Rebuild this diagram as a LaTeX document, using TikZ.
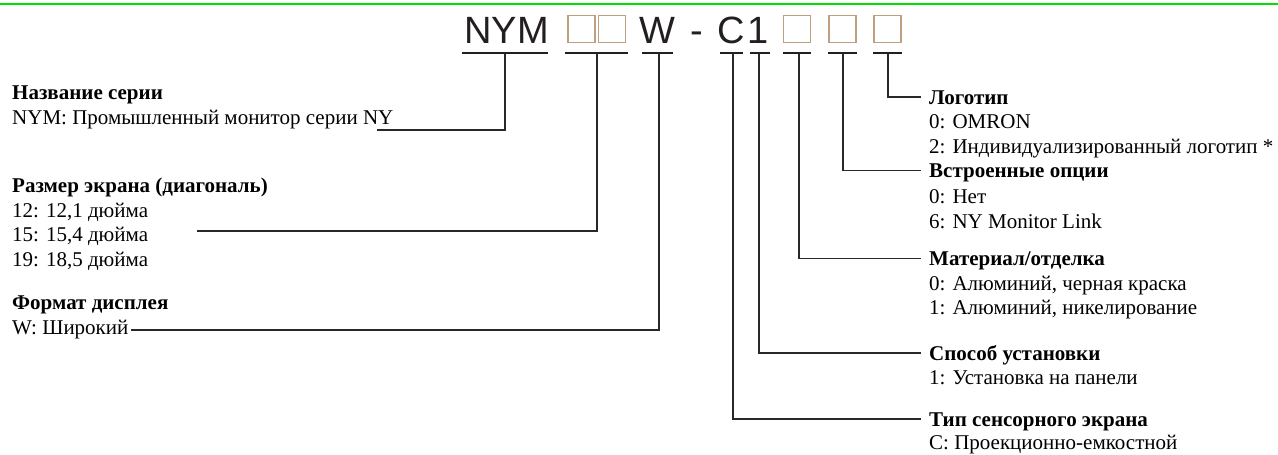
\documentclass[tikz,border=0pt]{standalone}
\usepackage{fontspec}
\setmainfont{Liberation Serif}
\newfontfamily\codefont{Liberation Sans}
\definecolor{codegray}{RGB}{35,31,32}
\definecolor{slottan}{RGB}{190,160,128}
\definecolor{rulegreen}{RGB}{0,225,0}
\definecolor{linegray}{RGB}{40,40,40}
\begin{document}
\begin{tikzpicture}[x=1pt,y=-1pt,
    code/.style={anchor=base,inner sep=0pt,text=codegray,font=\codefont\fontsize{38}{38}\selectfont},
    slot/.style={draw=slottan,line width=1.3pt,minimum width=27pt,minimum height=27pt,inner sep=0pt},
    uline/.style={line width=2.6pt,draw=codegray},
    conn/.style={line width=1.5pt,draw=linegray},
    head/.style={anchor=base west,inner sep=0pt,font=\bfseries\fontsize{21}{25}\selectfont},
    item/.style={anchor=base west,inner sep=0pt,font=\fontsize{21}{25}\selectfont},
    rhead/.style={head,inner xsep=8pt,text height=14pt,text depth=0pt}]
    \useasboundingbox (0,0) rectangle (1278,455);

    % Top rule
    \draw[rulegreen,line width=2.5pt] (0,4) -- (1278,4);

    % Model code
    \node[code] (nym) at (506.5,43) {NYM};
    \node[slot] (sz1) at (581.5,29) {};
    \node[slot] (sz2) at (612,29) {};
    \node[code] (fmt) at (657.5,43) {W};
    \node[code] (dash) at (697,43) {-};
    \node[code] (tch) at (731.5,43) {C};
    \node[code] (mnt) at (758.5,43) {1};
    \node[slot] (mat) at (797,29) {};
    \node[slot] (opt) at (842.5,29) {};
    \node[slot] (logo) at (887.5,29) {};

    % Underlines
    \foreach \a/\b/\m/\n in {462/548/505/nym, 565/628/597/size, 642/673/659/fmt,
                              720/743/733/tch, 750/770/759/mnt, 783/811/799/mat,
                              828/857/843/opt, 873/902/888/logo}{
        \draw[uline] (\a,53) -- (\b,53);
        \coordinate (u-\n) at (\m,53);
    }

    % Left descriptions
    \node[head] (hser) at (12,99) {Название серии};
    \node[item] (iser) at (12,124) {NYM: Промышленный монитор серии NY};
    \node[head] (hsize) at (12,192) {Размер экрана (диагональ)};
    \node[item] (isize1) at (12,217) {12: 12,1 дюйма};
    \node[item] (isize2) at (12,241.5) {15: 15,4 дюйма};
    \node[item] (isize3) at (12,266) {19: 18,5 дюйма};
    \node[head] (hfmt) at (12,309) {Формат дисплея};
    \node[item] (wtxt) at (12,334) {W: Широкий};

    % Right descriptions
    \node[rhead] (hlogo) at (921,104) {Логотип};
    \node[item] (ilogo1) at (929,128.8) {0: OMRON};
    \node[item] (ilogo2) at (929,153.6) {2: Индивидуализированный логотип *};
    \node[rhead] (hopt) at (921,177.5) {Встроенные опции};
    \node[item] (iopt1) at (929,203.2) {0: Нет};
    \node[item] (iopt2) at (929,228) {6: NY Monitor Link};
    \node[rhead] (hmat) at (921,265.5) {Материал/отделка};
    \node[item] (imat1) at (929,290) {0: Алюминий, черная краска};
    \node[item] (imat2) at (929,314.5) {1: Алюминий, никелирование};
    \node[rhead] (hmnt) at (921,360) {Способ установки};
    \node[item] (imnt) at (929,384.5) {1: Установка на панели};
    \node[rhead] (htch) at (921,426) {Тип сенсорного экрана};
    \node[item] (itch) at (929,449.5) {С: Проекционно-емкостной};

    % Connectors
    \coordinate (nymend) at (377,130);
    \coordinate (sizeend) at (197,231);
    \draw[conn] (u-nym) |- (nymend);
    \draw[conn] (u-size) |- (sizeend);
    \draw[conn] (u-fmt) |- ([shift={(2pt,4pt)}]wtxt.base east);
    \draw[conn] (u-tch) |- (htch.west);
    \draw[conn] (u-mnt) |- (hmnt.west);
    \draw[conn] (u-mat) |- (hmat.west);
    \draw[conn] (u-opt) |- (hopt.west);
    \draw[conn] (u-logo) |- (hlogo.west);
\end{tikzpicture}
\end{document}
